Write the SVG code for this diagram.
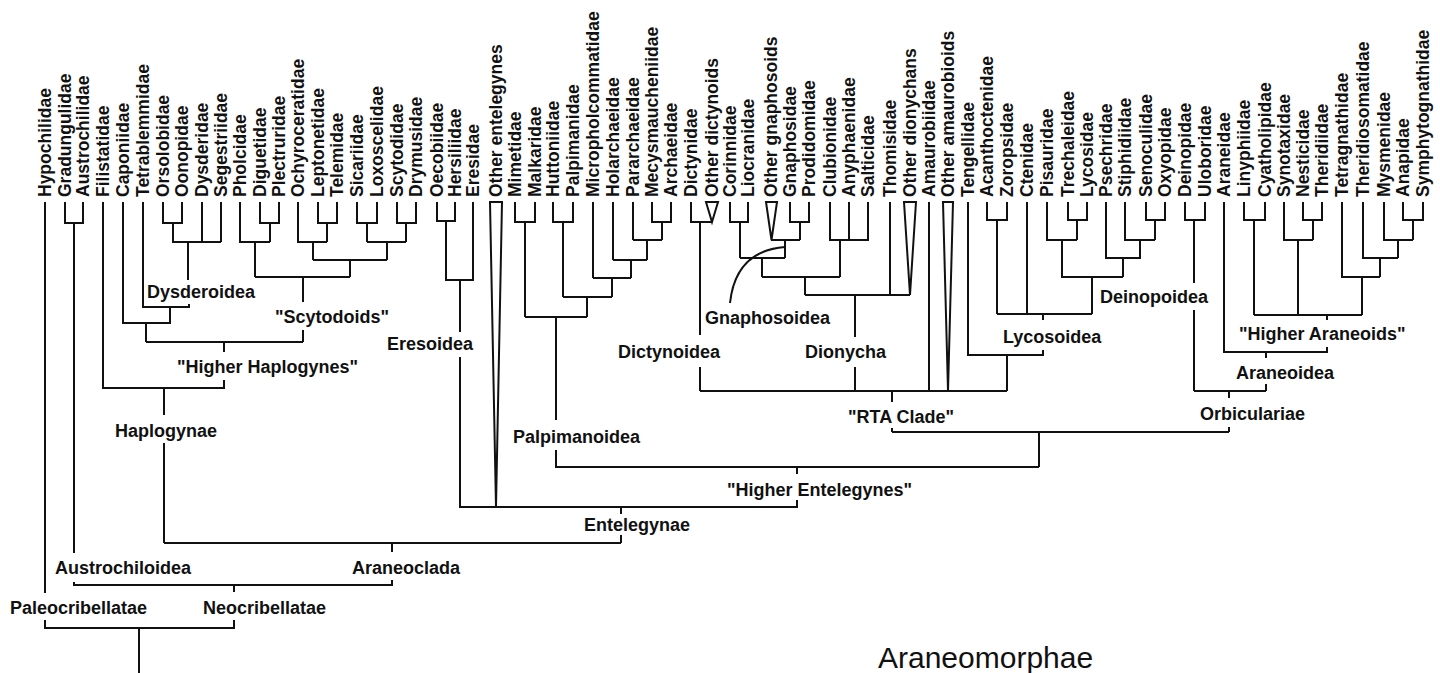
<svg xmlns="http://www.w3.org/2000/svg" width="1440" height="673" viewBox="0 0 1440 673">
<style>
.tx{font-family:"Liberation Sans",Arial,Helvetica,sans-serif;font-weight:bold;font-size:17.5px;fill:#111}
.cl{font-family:"Liberation Sans",Arial,Helvetica,sans-serif;font-weight:bold;font-size:18px;fill:#111}
.big{font-family:"Liberation Sans",Arial,Helvetica,sans-serif;font-size:30px;fill:#111}
.ln{fill:none;stroke:#111;stroke-width:2;stroke-linecap:butt;stroke-linejoin:miter}
.tri{fill:#fff;stroke:#111;stroke-width:2;stroke-linejoin:miter}
</style>
<rect width="1440" height="673" fill="#fff"/>
<g id="connectors" class="ln">
<path d="M139,628V673 M45,202V593 M45,620V628H234V620 M234,592V585"/>
<path d="M65,202V223H83V202 M74,223V553 M74,582V585H392V580 M392,543V552"/>
<path d="M164,543H621 M621,543V535 M621,514V507"/>
<path d="M164,543V443 M164,415V388 M103,202V388H224V380 M224,352V342 M146,342H303 M146,342V323 M303,342V330"/>
<path d="M123,202V323H170V307 M143,202V307H189V304 M188,280V242"/>
<path d="M163,202V223H182V202 M173,223V242H221 M202,202V242 M221,202V242"/>
<path d="M303,302V277 M255,277H350 M255,277V242 M240,202V242H270 M260,202V223H279V202 M270,223V242"/>
<path d="M350,277V260 M313,260H387 M313,260V242 M298,202V242H327 M318,202V223H337V202 M327,223V242"/>
<path d="M387,260V242 M367,242H406 M357,202V223H377V202 M367,223V242 M397,202V223H416V202 M406,223V242"/>
<path d="M437,202V221H455V202 M446,221V280H473V202 M460,280V332 M460,357V507H797V500"/>
<path d="M515,202V222H535V202 M525,222V317 M553,202V222H573V202 M563,222V297 M593,202V278 M613,202V260 M633,202V240 M652,202V222H671V202 M662,222V240"/>
<path d="M633,240H662 M647,240V260 M613,260H647 M631,260V278 M593,278H631 M612,278V297 M563,297H612 M587,297V317 M525,317H587 M556,317V420 M556,450V467H1039 M797,467V474"/>
<path d="M1039,467V432 M892,432H1229 M892,432V428 M892,402V391 M1229,432V427 M1229,398V391"/>
<path d="M700,391H1007 M691,202V222H712 M700,222V335 M700,367V391"/>
<path d="M855,391V367 M855,337V295 M805,295H910 M890,202V295 M805,295V277 M762,277H840 M840,277V240 M830,202V240H868V202 M849,202V240"/>
<path d="M762,277V258 M740,258H785 M740,222V258 M730,202V222H748V202 M785,258V240 M771,240H800 M800,240V222 M790,202V222H809V202"/>
<path d="M730,303C733,275 746,250 785,247"/>
<path d="M929,202V391"/>
<path d="M968,202V355H1043V350 M1043,320V314 M1007,355V391 M997,314H1092 M987,202V220H1007V202 M997,220V314 M1027,202V314"/>
<path d="M1047,202V240H1077 M1068,202V220H1087V202 M1077,220V240 M1062,240V277H1123 M1092,277V314 M1106,202V258H1140V240 M1125,202V240H1155 M1146,202V220H1165V202 M1155,220V240 M1123,258V277"/>
<path d="M1194,391H1266 M1194,391V310 M1194,283V220 M1185,202V220H1205V202 M1266,391V384 M1266,358V352 M1224,202V352H1327V347 M1327,320V315 M1254,315H1362"/>
<path d="M1244,202V220H1265V202 M1254,220V315 M1284,202V240H1313 M1303,202V220H1322V202 M1313,220V240 M1298,240V315"/>
<path d="M1342,202V277H1380 M1362,277V315 M1363,202V258H1398 M1380,258V277 M1384,202V240H1413 M1398,240V258 M1403,202V220H1423V202 M1413,220V240"/>
</g>
<g id="n01"><text class="tx" x="51" y="197" transform="rotate(-90 51 197)">Hypochilidae</text></g>
<g id="n02"><text class="tx" x="71" y="197" transform="rotate(-90 71 197)">Gradungulidae</text></g>
<g id="n03"><text class="tx" x="89" y="197" transform="rotate(-90 89 197)">Austrochilidae</text></g>
<g id="n04"><text class="tx" x="109" y="197" transform="rotate(-90 109 197)">Filistatidae</text></g>
<g id="n05"><text class="tx" x="129" y="197" transform="rotate(-90 129 197)">Caponiidae</text></g>
<g id="n06"><text class="tx" x="149" y="197" transform="rotate(-90 149 197)">Tetrablemmidae</text></g>
<g id="n07"><text class="tx" x="169" y="197" transform="rotate(-90 169 197)">Orsolobidae</text></g>
<g id="n08"><text class="tx" x="188" y="197" transform="rotate(-90 188 197)">Oonopidae</text></g>
<g id="n09"><text class="tx" x="208" y="197" transform="rotate(-90 208 197)">Dysderidae</text></g>
<g id="n10"><text class="tx" x="227" y="197" transform="rotate(-90 227 197)">Segestriidae</text></g>
<g id="n11"><text class="tx" x="246" y="197" transform="rotate(-90 246 197)">Pholcidae</text></g>
<g id="n12"><text class="tx" x="266" y="197" transform="rotate(-90 266 197)">Diguetidae</text></g>
<g id="n13"><text class="tx" x="285" y="197" transform="rotate(-90 285 197)">Plectruridae</text></g>
<g id="n14"><text class="tx" x="304" y="197" transform="rotate(-90 304 197)">Ochyroceratidae</text></g>
<g id="n15"><text class="tx" x="324" y="197" transform="rotate(-90 324 197)">Leptonetidae</text></g>
<g id="n16"><text class="tx" x="343" y="197" transform="rotate(-90 343 197)">Telemidae</text></g>
<g id="n17"><text class="tx" x="363" y="197" transform="rotate(-90 363 197)">Sicariidae</text></g>
<g id="n18"><text class="tx" x="383" y="197" transform="rotate(-90 383 197)">Loxoscelidae</text></g>
<g id="n19"><text class="tx" x="403" y="197" transform="rotate(-90 403 197)">Scytodidae</text></g>
<g id="n20"><text class="tx" x="422" y="197" transform="rotate(-90 422 197)">Drymusidae</text></g>
<g id="n21"><text class="tx" x="443" y="197" transform="rotate(-90 443 197)">Oecobiidae</text></g>
<g id="n22"><text class="tx" x="461" y="197" transform="rotate(-90 461 197)">Hersiliidae</text></g>
<g id="n23"><text class="tx" x="479" y="197" transform="rotate(-90 479 197)">Eresidae</text></g>
<g id="n24"><polygon class="tri" points="490,202 502,202 496,507"/><text class="tx" x="502" y="197" transform="rotate(-90 502 197)">Other entelegynes</text></g>
<g id="n25"><text class="tx" x="521" y="197" transform="rotate(-90 521 197)">Mimetidae</text></g>
<g id="n26"><text class="tx" x="541" y="197" transform="rotate(-90 541 197)">Malkaridae</text></g>
<g id="n27"><text class="tx" x="559" y="197" transform="rotate(-90 559 197)">Huttoniidae</text></g>
<g id="n28"><text class="tx" x="579" y="197" transform="rotate(-90 579 197)">Palpimanidae</text></g>
<g id="n29"><text class="tx" x="599" y="197" transform="rotate(-90 599 197)">Micropholcommatidae</text></g>
<g id="n30"><text class="tx" x="619" y="197" transform="rotate(-90 619 197)">Holarchaeidae</text></g>
<g id="n31"><text class="tx" x="639" y="197" transform="rotate(-90 639 197)">Pararchaeidae</text></g>
<g id="n32"><text class="tx" x="658" y="197" transform="rotate(-90 658 197)">Mecysmaucheniidae</text></g>
<g id="n33"><text class="tx" x="677" y="197" transform="rotate(-90 677 197)">Archaeidae</text></g>
<g id="n34"><text class="tx" x="697" y="197" transform="rotate(-90 697 197)">Dictynidae</text></g>
<g id="n35"><polygon class="tri" points="706,202 718,202 712,222"/><text class="tx" x="718" y="197" transform="rotate(-90 718 197)">Other dictynoids</text></g>
<g id="n36"><text class="tx" x="736" y="197" transform="rotate(-90 736 197)">Corinnidae</text></g>
<g id="n37"><text class="tx" x="754" y="197" transform="rotate(-90 754 197)">Liocranidae</text></g>
<g id="n38"><polygon class="tri" points="766,202 777,202 771.5,240"/><text class="tx" x="777" y="197" transform="rotate(-90 777 197)">Other gnaphosoids</text></g>
<g id="n39"><text class="tx" x="796" y="197" transform="rotate(-90 796 197)">Gnaphosidae</text></g>
<g id="n40"><text class="tx" x="815" y="197" transform="rotate(-90 815 197)">Prodidomidae</text></g>
<g id="n41"><text class="tx" x="836" y="197" transform="rotate(-90 836 197)">Clubionidae</text></g>
<g id="n42"><text class="tx" x="855" y="197" transform="rotate(-90 855 197)">Anyphaenidae</text></g>
<g id="n43"><text class="tx" x="874" y="197" transform="rotate(-90 874 197)">Salticidae</text></g>
<g id="n44"><text class="tx" x="896" y="197" transform="rotate(-90 896 197)">Thomisidae</text></g>
<g id="n45"><polygon class="tri" points="904,202 916,202 910,295"/><text class="tx" x="916" y="197" transform="rotate(-90 916 197)">Other dionychans</text></g>
<g id="n46"><text class="tx" x="935" y="197" transform="rotate(-90 935 197)">Amaurobiidae</text></g>
<g id="n47"><polygon class="tri" points="943,202 953,202 948,391"/><text class="tx" x="954" y="197" transform="rotate(-90 954 197)">Other amaurobioids</text></g>
<g id="n48"><text class="tx" x="974" y="197" transform="rotate(-90 974 197)">Tengellidae</text></g>
<g id="n49"><text class="tx" x="993" y="197" transform="rotate(-90 993 197)">Acanthoctenidae</text></g>
<g id="n50"><text class="tx" x="1013" y="197" transform="rotate(-90 1013 197)">Zoropsidae</text></g>
<g id="n51"><text class="tx" x="1033" y="197" transform="rotate(-90 1033 197)">Ctenidae</text></g>
<g id="n52"><text class="tx" x="1053" y="197" transform="rotate(-90 1053 197)">Pisauridae</text></g>
<g id="n53"><text class="tx" x="1074" y="197" transform="rotate(-90 1074 197)">Trechaleidae</text></g>
<g id="n54"><text class="tx" x="1093" y="197" transform="rotate(-90 1093 197)">Lycosidae</text></g>
<g id="n55"><text class="tx" x="1112" y="197" transform="rotate(-90 1112 197)">Psechridae</text></g>
<g id="n56"><text class="tx" x="1131" y="197" transform="rotate(-90 1131 197)">Stiphidiidae</text></g>
<g id="n57"><text class="tx" x="1152" y="197" transform="rotate(-90 1152 197)">Senoculidae</text></g>
<g id="n58"><text class="tx" x="1171" y="197" transform="rotate(-90 1171 197)">Oxyopidae</text></g>
<g id="n59"><text class="tx" x="1191" y="197" transform="rotate(-90 1191 197)">Deinopidae</text></g>
<g id="n60"><text class="tx" x="1211" y="197" transform="rotate(-90 1211 197)">Uloboridae</text></g>
<g id="n61"><text class="tx" x="1230" y="197" transform="rotate(-90 1230 197)">Araneidae</text></g>
<g id="n62"><text class="tx" x="1250" y="197" transform="rotate(-90 1250 197)">Linyphiidae</text></g>
<g id="n63"><text class="tx" x="1271" y="197" transform="rotate(-90 1271 197)">Cyatholipidae</text></g>
<g id="n64"><text class="tx" x="1290" y="197" transform="rotate(-90 1290 197)">Synotaxidae</text></g>
<g id="n65"><text class="tx" x="1309" y="197" transform="rotate(-90 1309 197)">Nesticidae</text></g>
<g id="n66"><text class="tx" x="1328" y="197" transform="rotate(-90 1328 197)">Theridiidae</text></g>
<g id="n67"><text class="tx" x="1348" y="197" transform="rotate(-90 1348 197)">Tetragnathidae</text></g>
<g id="n68"><text class="tx" x="1369" y="197" transform="rotate(-90 1369 197)">Theridiosomatidae</text></g>
<g id="n69"><text class="tx" x="1390" y="197" transform="rotate(-90 1390 197)">Mysmenidae</text></g>
<g id="n70"><text class="tx" x="1409" y="197" transform="rotate(-90 1409 197)">Anapidae</text></g>
<g id="n71"><text class="tx" x="1429" y="197" transform="rotate(-90 1429 197)">Symphytognathidae</text></g>
<g id="c-dysderoidea"><text class="cl" x="147" y="298">Dysderoidea</text></g>
<g id="c-scytodoids"><text class="cl" x="275" y="323">"Scytodoids"</text></g>
<g id="c-higher-haplogynes"><text class="cl" x="177" y="373">"Higher Haplogynes"</text></g>
<g id="c-haplogynae"><text class="cl" x="115" y="437">Haplogynae</text></g>
<g id="c-eresoidea"><text class="cl" x="387" y="350">Eresoidea</text></g>
<g id="c-austrochiloidea"><text class="cl" x="55" y="574">Austrochiloidea</text></g>
<g id="c-araneoclada"><text class="cl" x="352" y="574">Araneoclada</text></g>
<g id="c-paleocribellatae"><text class="cl" x="10" y="614">Paleocribellatae</text></g>
<g id="c-neocribellatae"><text class="cl" x="203" y="614">Neocribellatae</text></g>
<g id="c-gnaphosoidea"><text class="cl" x="705" y="324">Gnaphosoidea</text></g>
<g id="c-dictynoidea"><text class="cl" x="618" y="358">Dictynoidea</text></g>
<g id="c-dionycha"><text class="cl" x="805" y="358">Dionycha</text></g>
<g id="c-palpimanoidea"><text class="cl" x="513" y="443">Palpimanoidea</text></g>
<g id="c-rta"><text class="cl" x="848" y="423">"RTA Clade"</text></g>
<g id="c-deinopoidea"><text class="cl" x="1100" y="303">Deinopoidea</text></g>
<g id="c-lycosoidea"><text class="cl" x="1003" y="343">Lycosoidea</text></g>
<g id="c-higher-araneoids"><text class="cl" x="1239" y="340">"Higher Araneoids"</text></g>
<g id="c-araneoidea"><text class="cl" x="1236" y="379">Araneoidea</text></g>
<g id="c-orbiculariae"><text class="cl" x="1200" y="420">Orbiculariae</text></g>
<g id="c-higher-entelegynes"><text class="cl" x="727" y="496">"Higher Entelegynes"</text></g>
<g id="c-entelegynae"><text class="cl" x="584" y="531">Entelegynae</text></g>
<g id="c-araneomorphae"><text class="big" x="878" y="668">Araneomorphae</text></g>
</svg>
